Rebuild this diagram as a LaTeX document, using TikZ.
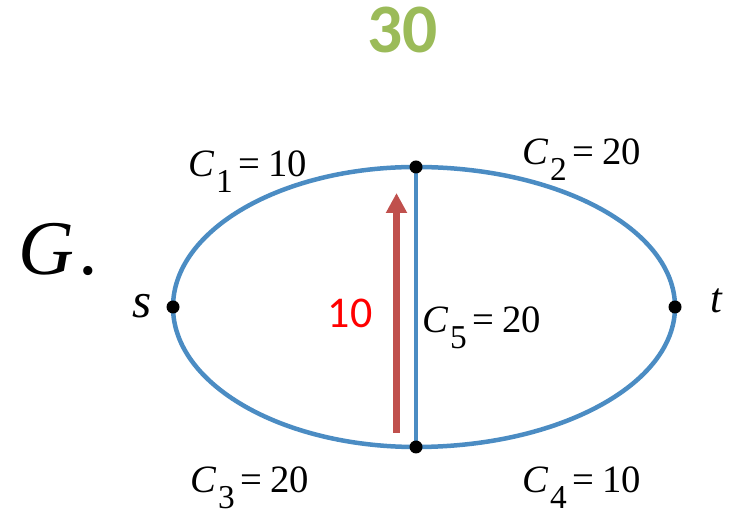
\documentclass[tikz,border=0pt]{standalone}
\usepackage{fontspec}
\setmainfont{Liberation Serif}
\newfontfamily\calibri{Carlito}
\usetikzlibrary{arrows.meta,backgrounds}
\definecolor{edgeBlue}{RGB}{75,140,195}
\definecolor{flowRed}{RGB}{192,80,77}
\definecolor{totalGreen}{RGB}{155,187,89}
\newcommand{\edgeCap}[2]{\textit{C}\kern0.04em\raisebox{-0.4em}{\fontsize{19}{19}\selectfont #1}\kern0.16em=\kern0.2em#2}
\tikzset{
  vertex/.style={circle,fill=black,inner sep=0pt,minimum size=0.26cm},
  capLabel/.style={anchor=base west,inner sep=0pt,font=\fontsize{22}{22}\selectfont},
  netEdge/.style={draw=edgeBlue,line width=0.09cm},
}

\begin{document}
\begin{tikzpicture}[
  flowArrow/.style={-{Triangle[length=0.4cm,width=0.4cm]},line width=0.14cm,flowRed},
  bigText/.style={anchor=base,inner sep=0pt},
]
  \useasboundingbox (0,0) rectangle (14.7,10.34);
  \node[vertex](s) at (3.46,4.20){};
  \node[vertex](vtop) at (8.32,7.00){};
  \node[vertex](vbot) at (8.32,1.40){};
  \node[vertex](t) at (13.50,4.20){};
  % network edges
  \begin{scope}[on background layer]
    \draw[netEdge](s.center) .. controls +(0,1.546) and +(-2.68,0) .. (vtop.center);
    \draw[netEdge](vtop.center) .. controls +(2.86,0) and +(0,1.546) .. (t.center);
    \draw[netEdge](s.center) .. controls +(0,-1.546) and +(-2.68,0) .. (vbot.center);
    \draw[netEdge](vbot.center) .. controls +(2.86,0) and +(0,-1.546) .. (t.center);
    \draw[netEdge](vtop.center) -- (vbot.center);
  \end{scope}
  % capacities
  \foreach \n/\i/\c/\x/\y in {c1/1/10/3.76/6.80, c2/2/20/10.44/7.04, c5/5/20/8.44/3.68,
                              c3/3/20/3.80/0.48, c4/4/10/10.44/0.48}{
    \node[capLabel](\n) at (\x,\y){\edgeCap{\i}{\c}};
  }
  \node[font=\fontsize{28}{28}\selectfont\itshape,anchor=base east,inner sep=0pt](slab) at (3.04,3.98){s};
  \node[font=\fontsize{24}{24}\selectfont\itshape,anchor=base west,inner sep=0pt](tlab) at (14.20,4.08){t};
  \node[font=\fontsize{44}{44}\selectfont\itshape,anchor=base west,inner sep=0pt](gname) at (0.36,4.84){G\kern0.08em.};
  % flow
  \coordinate(flowTail) at (7.93,1.68);
  \coordinate(flowHead) at (7.93,6.48);
  \draw[flowArrow](flowTail) -- (flowHead);
  \node[bigText,font=\calibri\fontsize{25}{25}\selectfont,text=red](flowVal) at (7.00,3.78){10};
  \node[bigText,font=\calibri\bfseries\fontsize{39.5}{40}\selectfont,text=totalGreen](total) at (8.05,9.28){30};
\end{tikzpicture}
\end{document}
